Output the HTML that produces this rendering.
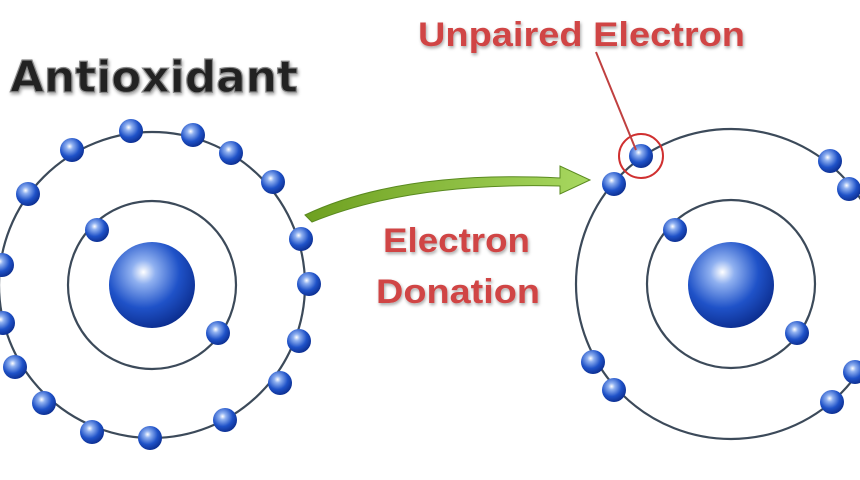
<!DOCTYPE html>
<html><head><meta charset="utf-8"><style>
html,body{margin:0;padding:0;background:#fff;width:860px;height:480px;overflow:hidden}
</style></head><body>
<svg width="860" height="480" viewBox="0 0 860 480" xmlns="http://www.w3.org/2000/svg">
<defs>
<radialGradient id="g" cx="0.4" cy="0.35" r="0.7">
<stop offset="0" stop-color="#ffffff"/><stop offset="0.2" stop-color="#8fb0f0"/><stop offset="0.6" stop-color="#1f52c8"/><stop offset="1" stop-color="#0a2a8a"/>
</radialGradient>
<linearGradient id="ar" x1="0" y1="0" x2="1" y2="0">
<stop offset="0" stop-color="#6ea020"/><stop offset="1" stop-color="#a8d860"/>
</linearGradient>
<filter id="sh"><feDropShadow dx="1" dy="2" stdDeviation="1.5" flood-color="#000" flood-opacity="0.35"/></filter>
</defs>
<g fill="none" stroke="#3c4a5a" stroke-width="2.2">
<circle cx="152" cy="285" r="153"/>
<circle cx="152" cy="285" r="84"/>
<circle cx="731" cy="284" r="155"/>
<circle cx="731" cy="284" r="84"/>
</g>
<g fill="url(#g)">
<circle cx="152" cy="285" r="43"/>
<circle cx="731" cy="285" r="43"/>
<g>
<circle cx="131" cy="131" r="12"/><circle cx="72" cy="150" r="12"/><circle cx="28" cy="194" r="12"/>
<circle cx="193" cy="135" r="12"/><circle cx="231" cy="153" r="12"/><circle cx="273" cy="182" r="12"/>
<circle cx="301" cy="239" r="12"/><circle cx="309" cy="284" r="12"/><circle cx="299" cy="341" r="12"/>
<circle cx="280" cy="383" r="12"/><circle cx="225" cy="420" r="12"/><circle cx="150" cy="438" r="12"/>
<circle cx="92" cy="432" r="12"/><circle cx="44" cy="403" r="12"/><circle cx="15" cy="367" r="12"/>
<circle cx="3" cy="323" r="12"/><circle cx="2" cy="265" r="12"/>
<circle cx="97" cy="230" r="12"/><circle cx="218" cy="333" r="12"/>
<circle cx="641" cy="156" r="12"/><circle cx="614" cy="184" r="12"/><circle cx="830" cy="161" r="12"/>
<circle cx="849" cy="189" r="12"/><circle cx="593" cy="362" r="12"/><circle cx="614" cy="390" r="12"/>
<circle cx="832" cy="402" r="12"/><circle cx="855" cy="372" r="12"/>
<circle cx="675" cy="230" r="12"/><circle cx="797" cy="333" r="12"/>
</g>
</g>
<circle cx="641" cy="156" r="22" fill="none" stroke="#d03030" stroke-width="2"/>
<line x1="596" y1="52" x2="636" y2="150" stroke="#c04040" stroke-width="2"/>
<path d="M305,215 Q400,170 560,178 L560,166 L590,180 L560,194 L560,186 Q410,182 312,222 Z" fill="url(#ar)" stroke="#5a8a20" stroke-width="1"/>
<text x="10" y="92" textLength="288" lengthAdjust="spacingAndGlyphs" font-family="DejaVu Sans, sans-serif" font-size="44" font-weight="bold" fill="#222" stroke="#888" stroke-width="1.2" filter="url(#sh)">Antioxidant</text>
<text x="418" y="46" textLength="327" lengthAdjust="spacingAndGlyphs" font-family="Liberation Sans, sans-serif" font-size="34" font-weight="bold" fill="#d04545" filter="url(#sh)">Unpaired Electron</text>
<text x="383" y="252" textLength="147" lengthAdjust="spacingAndGlyphs" font-family="Liberation Sans, sans-serif" font-size="34" font-weight="bold" fill="#d04545" filter="url(#sh)">Electron</text>
<text x="376" y="303" textLength="164" lengthAdjust="spacingAndGlyphs" font-family="Liberation Sans, sans-serif" font-size="34" font-weight="bold" fill="#d04545" filter="url(#sh)">Donation</text>
</svg>
</body></html>
